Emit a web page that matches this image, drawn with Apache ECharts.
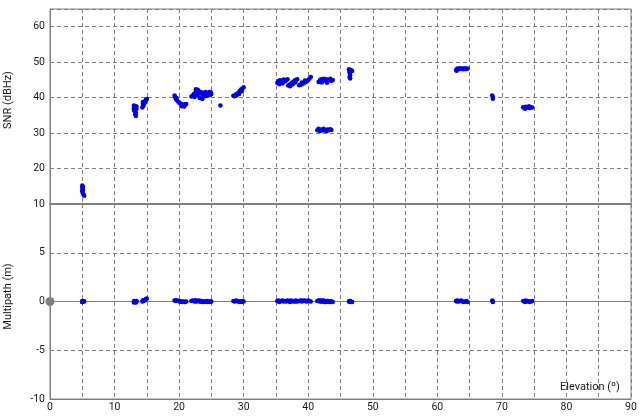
<!DOCTYPE html>
<html>
<head>
<meta charset="utf-8">
<script src="https://cdn.jsdelivr.net/npm/echarts@6/dist/echarts.min.js"></script>
<style>html,body{margin:0;padding:0;background:#fff}#c{width:644px;height:418px}</style>
</head>
<body>
<div id="c"></div>
<script>
// Elevation (deg), SNR (dBHz), Multipath (m) for each epoch
const elevation = [
  5.0,5.0,5.1,5.0,5.1,5.2,5.3,5.1,5.0,
  13.0,13.2,13.4,13.0,13.3,13.1,13.3,13.2,13.3,13.0,13.4,
  14.3,14.4,14.4,14.5,14.6,14.8,14.9,15.0,14.5,14.7,14.4,
  19.3,19.4,19.5,19.7,19.9,20.1,20.3,20.5,20.7,20.9,21.1,19.6,20.0,20.4,20.8,
  21.9,22.1,22.3,22.5,22.7,22.9,23.1,23.3,23.5,23.7,23.9,24.1,24.3,24.5,24.7,24.9,22.4,22.8,23.2,23.6,24.0,24.4,24.8,22.6,25.0,
  26.4,
  28.4,28.6,28.8,29.0,29.2,29.4,29.6,29.8,30.0,28.9,29.3,29.7,
  35.2,35.4,35.6,35.8,36.0,36.2,36.4,36.6,35.5,36.0,36.8,
  36.9,37.1,37.3,37.5,37.7,37.9,38.1,38.3,37.2,37.6,38.0,
  38.6,38.8,39.0,39.2,39.4,39.6,39.8,40.0,40.2,40.4,39.0,39.5,
  41.6,41.8,42.0,42.2,42.4,42.6,42.8,43.0,43.2,43.4,43.6,43.8,42.1,42.9,
  41.4,41.6,41.8,42.0,42.2,42.4,42.6,42.8,43.0,43.2,43.4,43.6,
  46.3,46.4,46.5,46.6,46.4,46.5,46.4,46.5,46.8,
  62.9,63.1,63.3,63.5,63.7,63.9,64.1,64.3,64.5,64.7,63.0,
  68.5,68.6,68.6,
  73.3,73.5,73.7,73.9,74.1,74.3,74.5,74.7,73.6,74.2
];
const snr = [
  15.2,14.6,14.0,13.5,13.0,12.6,12.3,14.9,13.8,
  37.8,37.6,37.5,37.0,36.8,36.2,35.8,35.3,34.8,36.5,36.9,
  37.2,37.6,38.2,38.5,38.8,39.2,39.5,39.6,37.9,38.6,38.8,
  40.6,40.1,39.6,39.2,38.8,38.4,38.2,38.0,37.9,38.1,38.2,39.9,38.6,37.6,37.5,
  40.3,40.6,41.0,41.4,41.8,42.2,41.7,41.2,41.5,40.8,41.3,41.6,41.2,41.0,41.6,41.5,40.2,40.7,39.9,39.6,40.4,40.5,40.8,42.4,41.0,
  37.8,
  40.5,40.4,40.9,41.1,41.4,41.9,42.3,42.6,42.9,40.6,41.0,41.8,
  44.2,44.6,44.9,44.5,44.8,45.1,44.6,44.9,43.8,44.0,45.2,
  43.4,43.6,43.9,44.2,44.5,44.8,45.0,45.2,43.2,43.8,44.3,
  43.5,43.6,43.8,44.0,44.2,44.4,44.7,45.0,45.4,45.8,44.3,44.8,
  44.4,44.9,45.2,44.7,45.3,44.8,45.2,44.6,45.0,45.3,44.7,45.0,44.3,44.2,
  30.8,31.2,30.6,31.0,30.7,31.2,30.8,30.5,31.0,30.8,31.1,30.9,
  48.0,47.6,47.4,47.8,47.0,46.4,45.8,45.4,47.5,
  47.8,48.2,48.0,48.3,48.1,48.2,48.0,48.3,48.1,48.2,47.6,
  40.6,40.2,39.7,
  37.3,37.1,37.4,37.2,37.3,37.1,37.3,37.2,36.9,37.6
];
const multipath = [
  0.0,0.05,0.0,-0.05,0.0,0.05,0.0,0.0,-0.05,
  0.0,-0.05,0.0,-0.1,0.0,0.05,-0.05,0.0,-0.1,0.0,0.05,
  0.0,0.05,0.1,0.1,0.15,0.2,0.25,0.3,0.05,0.15,0.1,
  0.1,0.1,0.05,0.1,0.05,0.0,0.0,-0.05,0.0,-0.05,0.0,0.1,0.05,0.0,-0.05,
  0.05,0.1,0.05,0.1,0.0,0.05,0.1,0.0,0.05,0.0,-0.05,0.0,0.05,0.0,-0.05,0.0,0.0,0.05,0.0,-0.05,0.0,-0.05,0.0,0.1,0.0,
  null,
  0.05,0.0,0.1,0.05,0.0,-0.05,0.0,0.05,0.0,0.05,0.0,-0.05,
  0.05,0.1,0.0,0.05,0.1,0.0,0.05,0.0,-0.05,0.05,0.1,
  0.05,0.0,0.1,0.05,0.0,0.05,0.1,0.0,-0.05,0.05,0.0,
  0.05,0.1,0.0,0.05,0.1,0.05,0.0,0.1,0.05,0.0,0.1,0.05,
  0.05,0.1,0.0,0.05,0.1,-0.05,0.0,0.05,0.0,-0.05,0.0,-0.05,0.1,0.0,
  0.05,0.1,0.0,0.05,0.0,0.05,-0.05,0.0,0.05,0.0,-0.05,0.0,
  0.0,0.05,0.0,-0.05,0.0,0.05,0.0,0.0,-0.05,
  0.05,0.1,0.0,0.05,0.1,0.0,-0.05,0.0,0.05,-0.05,0.0,
  0.1,0.0,-0.05,
  0.05,0.0,0.1,0.05,0.0,-0.05,0.0,0.05,-0.05,0.0
];
const xTicks = [0,10,20,30,40,50,60,70,80,90];

const FONT = 'Roboto';
const TXT = '#1a1a1a';
const GRAY = '#808080';
const BLUE = '#0000e8';

const snrData = elevation.map((e, i) => [e, snr[i]]);
const mpData = elevation.map((e, i) => [e, multipath[i]]).filter(d => d[1] !== null);

const dash = {color: GRAY, width: 1, type: [4, 3]};
const xFmt = v => (xTicks.indexOf(v) >= 0 ? String(v) : '');

const chart = echarts.init(document.getElementById('c'), null, {renderer: 'canvas'});
chart.setOption({
  animation: false,
  backgroundColor: '#ffffff',
  textStyle: {fontFamily: FONT},
  grid: [
    {left: 50, right: 13, top: 9, height: 195, show: true, borderColor: GRAY, borderWidth: 1,
     backgroundColor: 'transparent', containLabel: false, outerBoundsMode: 'none'},
    {left: 50, right: 13, top: 204, height: 195, show: true, borderColor: GRAY, borderWidth: 1,
     backgroundColor: 'transparent', containLabel: false, outerBoundsMode: 'none'}
  ],
  xAxis: [
    {gridIndex: 0, type: 'value', min: 0, max: 90, interval: 5,
     axisLine: {show: true, onZero: false, lineStyle: {color: GRAY, width: 2}}, axisTick: {show: false},
     axisLabel: {show: false}, splitLine: {show: true, lineStyle: dash}},
    {gridIndex: 1, type: 'value', min: 0, max: 90, interval: 5,
     axisLine: {show: true, onZero: false, lineStyle: {color: GRAY, width: 1}}, axisTick: {show: false},
     axisLabel: {show: true, margin: 3, formatter: xFmt, color: TXT, fontFamily: FONT, fontSize: 10.5},
     splitLine: {show: true, lineStyle: dash},
     name: 'Elevation (º)', nameLocation: 'end', nameGap: -71,
     nameTextStyle: {color: TXT, fontFamily: FONT, fontSize: 11, align: 'left', verticalAlign: 'bottom', padding: [0, 0, 6, 0]}}
  ],
  yAxis: [
    {gridIndex: 0, type: 'value', min: 10, max: 65, interval: 10,
     axisLine: {show: true, onZero: false, lineStyle: {color: GRAY, width: 1}}, axisTick: {show: false},
     axisLabel: {show: true, margin: 5, color: TXT, fontFamily: FONT, fontSize: 10.5,
                 formatter: v => (v === 65 || v === 10 ? '' : String(v))},
     splitLine: {show: true, lineStyle: dash},
     name: 'SNR (dBHz)', nameLocation: 'middle', nameGap: 36,
     nameTextStyle: {color: TXT, fontFamily: FONT, fontSize: 11, padding: [0, 0, 0, 13]}},
    {gridIndex: 1, type: 'value', min: -10, max: 10, interval: 5,
     axisLine: {show: true, onZero: false, lineStyle: {color: GRAY, width: 1}}, axisTick: {show: false},
     axisLabel: {show: true, margin: 5, color: TXT, fontFamily: FONT, fontSize: 10.5},
     splitLine: {show: true, lineStyle: dash},
     name: 'Multipath (m)', nameLocation: 'middle', nameGap: 36,
     nameTextStyle: {color: TXT, fontFamily: FONT, fontSize: 11, padding: [0, 0, 0, 10]}}
  ],
  series: [
    {name: 'SNR', type: 'scatter', xAxisIndex: 0, yAxisIndex: 0, data: snrData,
     symbol: 'circle', symbolSize: 4.5, itemStyle: {color: BLUE, opacity: 1}, z: 5},
    {name: 'Multipath', type: 'scatter', xAxisIndex: 1, yAxisIndex: 1, data: mpData,
     symbol: 'circle', symbolSize: 4.5, itemStyle: {color: BLUE, opacity: 1}, z: 5,
     markLine: {silent: true, symbol: 'none', label: {show: false},
                lineStyle: {color: GRAY, width: 1, type: 'solid'}, data: [{yAxis: 0}], z: 3},
     markPoint: {silent: true, symbol: 'circle', symbolSize: 9, label: {show: false},
                 itemStyle: {color: GRAY, opacity: 1}, data: [{coord: [0, 0]}]}}
  ]
});
</script>
</body>
</html>
